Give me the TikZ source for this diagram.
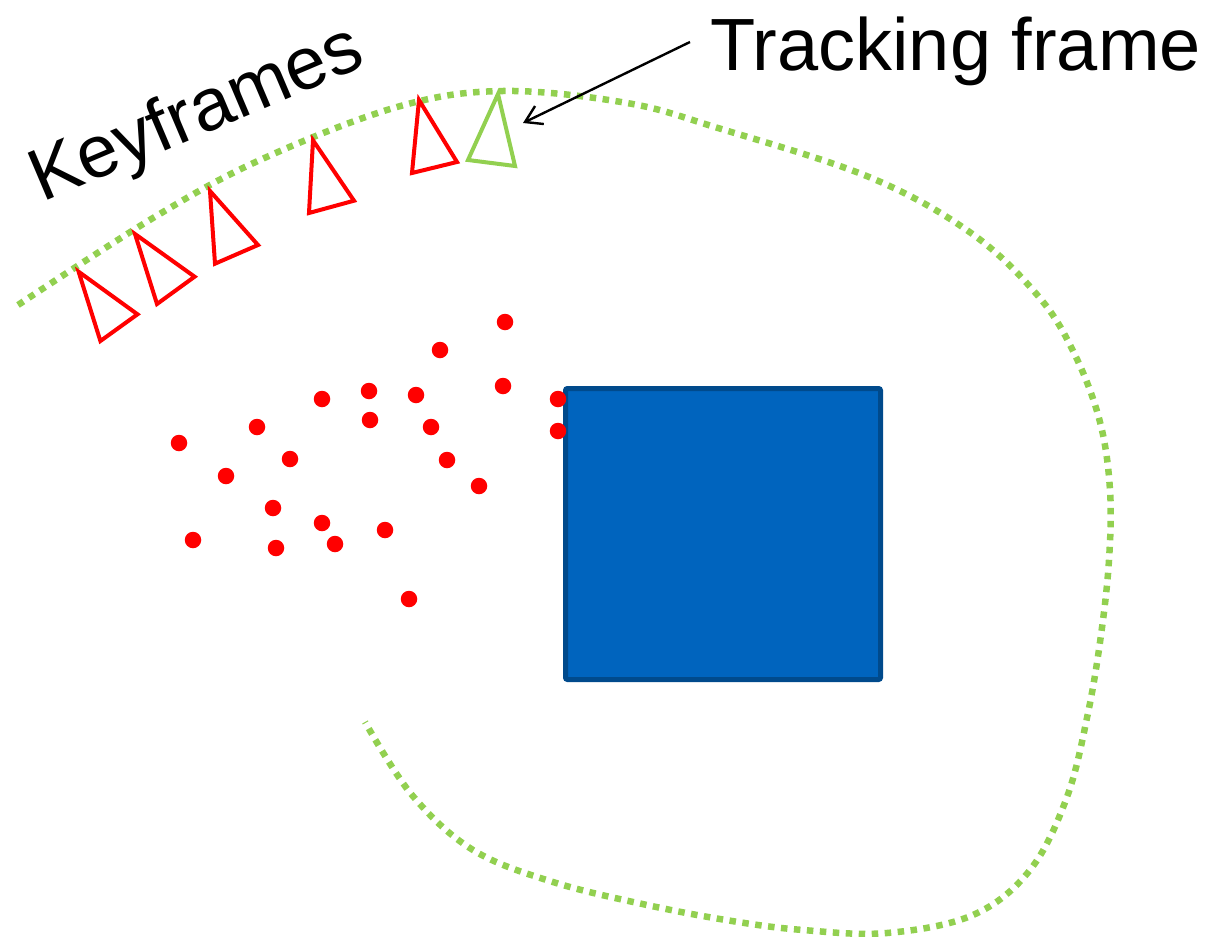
\documentclass[tikz,border=0pt]{standalone}
\usepackage{fontspec}
\setmainfont{Liberation Sans}
\usetikzlibrary{arrows.meta}
\definecolor{leaf}{RGB}{146,208,80}
\definecolor{boxfill}{RGB}{0,100,190}
\definecolor{boxline}{RGB}{0,74,140}
\begin{document}
\begin{tikzpicture}[x=1pt,y=-1pt,
  orbit/.style={draw=leaf, line width=6.5pt, dash pattern=on 6.5pt off 6.5pt},
  keyframe/.style={draw=red, line width=4pt, line join=miter},
  trackframe/.style={draw=leaf, line width=4pt, line join=miter},
  landmark/.style={circle, fill=red, inner sep=0pt, minimum size=16.5pt},
  bigtext/.style={font=\fontsize{74}{80}\selectfont, inner sep=0pt},
  object/.style={draw=boxline, fill=boxfill, line width=5pt, rounded corners=2pt,
                 minimum width=315pt, minimum height=291pt, inner sep=0pt}]
\useasboundingbox (0,0) rectangle (1216,937);

% camera trajectory
\draw[orbit] plot[smooth, tension=0.6] coordinates {
  (18,305) (153,218) (260,160) (397,107) (503,91) (627,103) (718,128)
  (869,177) (971,233) (1039,297) (1075,355) (1100,422) (1110,490)
  (1109,560) (1101,635) (1088,713) (1067,797) (1030,870) (973,915)
  (887,933) (803,930) (732,921) (647,905) (553,882) (473,850) (412,795) (365,722)};

% keyframes
\draw[keyframe] (78.6,271.7) -- (137.5,314.3) -- (100.4,341) -- cycle;
\draw[keyframe] (135,234) -- (194.6,276.7) -- (157,304) -- cycle;
\draw[keyframe] (210,191) -- (258,245) -- (215,263.7) -- cycle;
\draw[keyframe] (313,140.3) -- (354,200.7) -- (309,213) -- cycle;
\draw[keyframe] (419,100) -- (457,162) -- (412,173) -- cycle;

% current tracking frame
\draw[trackframe] (498,94) -- (515,166) -- (468,160) -- cycle;

% scene object
\node[object] (obj) at (723,534) {};

% map points
\foreach \n/\p in {1/{(505,322)}, 2/{(440,350)}, 3/{(503,386)}, 4/{(558,399)},
  5/{(558,431)}, 6/{(322,399)}, 7/{(369,391)}, 8/{(416,395)}, 9/{(370,420)},
  10/{(431,427)}, 11/{(257,427)}, 12/{(179,443)}, 13/{(290,459)}, 14/{(226,476)},
  15/{(447,460)}, 16/{(479,486)}, 17/{(273,508)}, 18/{(322,523)}, 19/{(385,530)},
  20/{(193,540)}, 21/{(276,548)}, 22/{(335,544)}, 23/{(409,599)}}
  \node[landmark] (p\n) at \p {};

% labels
\node[bigtext, anchor=base west] (track) at (710,70) {Tracking frame};
\node[bigtext, anchor=base west, rotate=23] (keys) at (42,203) {Keyframes};

% pointer to the tracking frame
\coordinate (tail) at (690,42);
\coordinate (tip) at (523,123);
\draw[line width=2.4pt, -{Straight Barb[length=16pt,width=20pt,line width=2.4pt]}] (tail) -- (tip);
\end{tikzpicture}
\end{document}
